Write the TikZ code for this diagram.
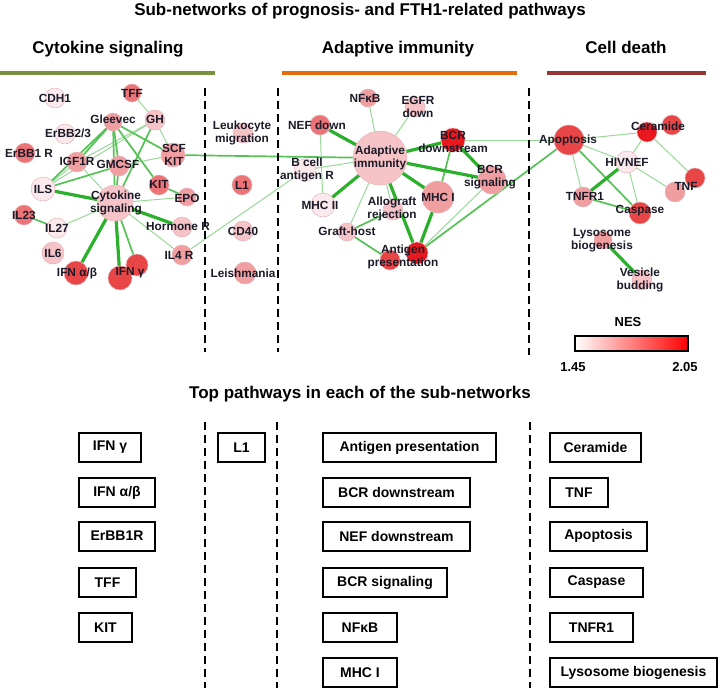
\documentclass[tikz,border=0pt]{standalone}
\usepackage{fontspec}
\setmainfont{Liberation Sans}
\usetikzlibrary{backgrounds}
\definecolor{labc}{HTML}{1A1A28}
\definecolor{cA}{HTML}{FBE9EB}
\definecolor{cB}{HTML}{F6C4C6}
\definecolor{cC}{HTML}{F19EA0}
\definecolor{cD}{HTML}{EC7476}
\definecolor{cE}{HTML}{E84646}
\definecolor{cF}{HTML}{E8181E}
\definecolor{ndb}{HTML}{E6B4BA}
\definecolor{eA}{HTML}{98D898}
\definecolor{eB}{HTML}{55C255}
\definecolor{eC}{HTML}{2AB02A}
\definecolor{gline}{HTML}{76923C}
\definecolor{oline}{HTML}{E46C0A}
\definecolor{rline}{HTML}{953735}
\newcommand\lblfont{\fontsize{11.8}{13}\selectfont\bfseries}
\newcommand\boxfont{\fontsize{14}{16}\selectfont\bfseries}
\newcommand\headfont{\fontsize{17}{19}\selectfont\bfseries}
\newcommand\titlefont{\fontsize{17}{19}\selectfont\bfseries}
\newcommand\legfont{\fontsize{13}{15}\selectfont\bfseries}
\tikzset{
  nd/.style={circle, inner sep=0pt, minimum size=#1pt, draw=ndb, line width=0.5pt},
  lab/.style={font=\lblfont, text=labc, align=center, inner sep=0pt},
  ea/.style={draw=eA, line width=1pt},
  eb/.style={draw=eB, line width=1.7pt},
  ec/.style={draw=eC, line width=3.2pt},
  pbox/.style={draw=black, line width=2pt, minimum height=29pt, inner sep=0pt, font=\boxfont, text=black, anchor=west},
  dashln/.style={draw=black, line width=2pt, dash pattern=on 8pt off 5pt},
  headtxt/.style={font=\headfont, text=black, anchor=base, inner sep=0pt},
}
\begin{document}
\begin{tikzpicture}[x=1pt,y=-1pt]
\useasboundingbox (0,0) rectangle (720,688);

% titles
\node[font=\titlefont, text=black, anchor=base, inner sep=0pt] (title) at (360,16) {Sub-networks of prognosis- and FTH1-related pathways};
\node[headtxt] (h1) at (108,53) {Cytokine signaling};
\node[headtxt] (h2) at (398,53) {Adaptive immunity};
\node[headtxt] (h3) at (626,53) {Cell death};
\draw[gline, line width=4pt] (0,73) -- (215,73);
\draw[oline, line width=4pt] (282,73) -- (517,73);
\draw[rline, line width=4pt] (547,73) -- (706,73);

% dashed separators
\draw[dashln] (205,88) -- (205,352);
\draw[dashln] (278,88) -- (278,352);
\draw[dashln] (529,88) -- (529,355);
\draw[dashln] (205,422) -- (205,688);
\draw[dashln] (277,422) -- (277,688);
\draw[dashln] (530,422) -- (530,688);

% ---- cytokine network nodes
\node[nd=20, fill=cA] (cdh1) at (55,98) {};
\node[nd=18, fill=cD] (tff) at (132,93) {};
\node[nd=20, fill=cB] (gh) at (155,120) {};
\node[nd=18, fill=cC] (gleevec) at (113,122) {};
\node[nd=20, fill=cA] (erbb23) at (65,134) {};
\node[nd=20, fill=cD] (erbb1r) at (25,153) {};
\node[nd=20, fill=cC] (igf1r) at (77,162) {};
\node[nd=20, fill=cC] (gmcsf) at (119,166) {};
\node[nd=24, fill=cC] (scfkit) at (173,155) {};
\node[nd=20, fill=cD] (kit) at (159,185) {};
\node[nd=24, fill=cA] (ils) at (43,189) {};
\node[nd=36, fill=cB] (cyto) at (115,203) {};
\node[nd=18, fill=cC] (epo) at (187,197) {};
\node[nd=20, fill=cD] (il23) at (24,215) {};
\node[nd=20, fill=cA] (il27) at (57,228) {};
\node[nd=20, fill=cB] (hormr) at (182,227) {};
\node[nd=22, fill=cB] (il6) at (53,253) {};
\node[nd=20, fill=cC] (il4r) at (182,255) {};
\node[nd=24, fill=cE] (ifnab) at (76,273) {};
\node[nd=22, fill=cE] (ifng2) at (137,265) {};
\node[nd=24, fill=cE] (ifng) at (120,278) {};

% ---- middle-left column
\node[nd=20, fill=cB] (leuk) at (243,133) {};
\node[nd=20, fill=cD] (l1) at (242,185) {};
\node[nd=20, fill=cB] (cd40) at (243,231) {};
\node[nd=22, fill=cC] (leish) at (245,273) {};

% ---- adaptive immunity network
\node[nd=18, fill=cC] (nfkb) at (368,98) {};
\node[nd=20, fill=cB] (egfr) at (415,107) {};
\node[nd=20, fill=cD] (nef) at (320,125) {};
\node[nd=54, fill=cB] (adapt) at (380,158) {};
\node[nd=22, fill=cA] (bcell) at (305,170) {};
\node[nd=24, fill=cA] (mhc2) at (323,205) {};
\node[nd=20, fill=cB] (allo) at (393,210) {};
\node[nd=18, fill=cB] (graft) at (347,232) {};
\node[nd=20, fill=cE] (ag1) at (390,260) {};
\node[nd=22, fill=cF] (ag2) at (417,253) {};
\node[nd=32, fill=cC] (mhc1) at (438,197) {};
\node[nd=24, fill=cF] (bcrd) at (453,140) {};
\node[nd=28, fill=cC] (bcrs) at (492,180) {};

% ---- cell death network
\node[nd=30, fill=cE] (apop) at (569,140) {};
\node[nd=20, fill=cF] (cer1) at (647,132) {};
\node[nd=20, fill=cE] (cer2) at (672,125) {};
\node[nd=22, fill=cA] (hiv) at (627,162) {};
\node[nd=20, fill=cE] (tnf1) at (695,178) {};
\node[nd=20, fill=cC] (tnf2) at (675,192) {};
\node[nd=20, fill=cC] (tnfr1) at (583,197) {};
\node[nd=22, fill=cE] (casp) at (640,213) {};
\node[nd=18, fill=cC] (lyso) at (603,240) {};
\node[nd=20, fill=cB] (ves) at (642,280) {};

% ---- edges (behind nodes)
\begin{pgfonlayer}{background}
% cytokine
\draw[ea] (tff) -- (gh);
\draw[ea] (gh) -- (igf1r);
\draw[ea] (gh) -- (ils);
\draw[ea] (gh) -- (scfkit);
\draw[ea] (igf1r) -- (ils);
\draw[ea] (igf1r) -- (cyto);
\draw[ea] (cyto) -- (epo);
\draw[ea] (cyto) -- (il4r);
\draw[ea] (cyto) -- (il27);
\draw[ea] (gmcsf) -- (scfkit);
\draw[ea] (il4r) -- (bcell);
\draw[eb] (gh) -- (cyto);
\draw[eb] (gleevec) -- (igf1r);
\draw[eb] (gleevec) -- (ils);
\draw[eb] (gleevec) -- (scfkit);
\draw[eb] (gleevec) -- (kit);
\draw[eb] (gleevec) -- (cyto);
\draw[eb] (gleevec) -- (gmcsf);
\draw[eb] (gmcsf) -- (cyto);
\draw[eb] (ils) -- (gmcsf);
\draw[eb] (kit) -- (epo);
\draw[eb] (il23) -- (il27);
\draw[eb] (cyto) -- (ifng2);
\draw[eb] (scfkit) -- (adapt);
\draw[ec] (ils) -- (cyto);
\draw[ec] (cyto) -- (hormr);
\draw[ec] (cyto) -- (ifnab);
\draw[ec] (cyto) -- (ifng);
% adaptive
\draw[ea] (nfkb) -- (adapt);
\draw[ea] (egfr) -- (adapt);
\draw[ea] (nef) -- (mhc2);
\draw[ea] (bcell) -- (adapt);
\draw[ea] (graft) -- (adapt);
\draw[ea] (allo) -- (adapt);
\draw[ea] (bcrd) -- (apop);
\draw[ea] (ag2) -- (bcrs);
\draw[eb] (graft) -- (ag1);
\draw[eb] (graft) -- (allo);
\draw[eb] (bcrd) -- (mhc1);
\draw[eb] (ag2) -- (apop);
\draw[ec] (nef) -- (adapt);
\draw[ec] (mhc2) -- (adapt);
\draw[ec] (adapt) -- (bcrd);
\draw[ec] (adapt) -- (bcrs);
\draw[ec] (adapt) -- (mhc1);
\draw[ec] (adapt) -- (ag2);
\draw[ec] (mhc1) -- (ag2);
\draw[ec] (bcrd) -- (bcrs);
% cell death
\draw[ea] (apop) -- (cer1);
\draw[ea] (apop) -- (hiv);
\draw[ea] (apop) -- (tnfr1);
\draw[ea] (cer1) -- (hiv);
\draw[ea] (cer1) -- (tnf1);
\draw[ea] (hiv) -- (tnf2);
\draw[ea] (hiv) -- (casp);
\draw[eb] (apop) -- (casp);
\draw[eb] (tnfr1) -- (casp);
\draw[ec] (hiv) -- (tnfr1);
\draw[ec] (lyso) -- (ves);
\end{pgfonlayer}

% ---- labels
\node[lab] (lcdh1) at (55,98) {CDH1};
\node[lab] (ltff) at (132,93) {TFF};
\node[lab] (lgh) at (155,119) {GH};
\node[lab] (lgleevec) at (113,119) {Gleevec};
\node[lab] (lerbb23) at (68,133) {ErBB2/3};
\node[lab] (lerbb1r) at (29,153) {ErBB1 R};
\node[lab] (ligf1r) at (77,161) {IGF1R};
\node[lab] (lgmcsf) at (118,164) {GMCSF};
\node[lab] (lscfkit) at (174,155) {SCF\\KIT};
\node[lab] (lkit) at (159,184) {KIT};
\node[lab] (lils) at (43,189) {ILS};
\node[lab] (lcyto) at (116,203) {Cytokine\\signaling};
\node[lab] (lepo) at (187,198) {EPO};
\node[lab] (lil23) at (24,215) {IL23};
\node[lab] (lil27) at (57,228) {IL27};
\node[lab] (lhormr) at (178,226) {Hormone R};
\node[lab] (lil6) at (53,253) {IL6};
\node[lab] (lil4r) at (179,255) {IL4 R};
\node[lab] (lifnab) at (77,273) {IFN α/β};
\node[lab] (lifng) at (130,273) {IFN γ};
\node[lab] (lleuk) at (242,133) {Leukocyte\\migration};
\node[lab] (ll1) at (242,185) {L1};
\node[lab] (lcd40) at (243,231) {CD40};
\node[lab] (lleish) at (243,273) {Leishmania};
\node[lab] (lnfkb) at (365,98) {NFκB};
\node[lab] (legfr) at (418,107) {EGFR\\down};
\node[lab] (lnef) at (317,125) {NEF down};
\node[lab] (ladapt) at (380,158) {Adaptive\\immunity};
\node[lab] (lbcell) at (307,170) {B cell\\antigen R};
\node[lab] (lmhc2) at (320,205) {MHC II};
\node[lab] (lallo) at (392,209) {Allograft\\rejection};
\node[lab] (lgraft) at (347,231) {Graft-host};
\node[lab] (lag) at (403,257) {Antigen\\presentation};
\node[lab] (lmhc1) at (438,197) {MHC I};
\node[lab] (lbcrd) at (453,142) {BCR\\downstream};
\node[lab] (lbcrs) at (490,177) {BCR\\signaling};
\node[lab] (lapop) at (568,140) {Apoptosis};
\node[lab] (lcer) at (658,126) {Ceramide};
\node[lab] (lhiv) at (627,162) {HIVNEF};
\node[lab] (ltnf) at (686,186) {TNF};
\node[lab] (ltnfr1) at (585,196) {TNFR1};
\node[lab] (lcasp) at (640,211) {Caspase};
\node[lab] (llyso) at (602,240) {Lysosome\\biogenesis};
\node[lab] (lves) at (640,280) {Vesicle\\budding};

% ---- legend
\node[font=\legfont, text=black, inner sep=0pt] (nes) at (628,322) {NES};
\node[draw=black, line width=1.5pt, left color=white, right color=red, minimum width=113pt, minimum height=15pt, inner sep=0pt] (bar) at (631.5,343.5) {};
\node[font=\legfont, text=black, inner sep=0pt] (lo) at (573,367) {1.45};
\node[font=\legfont, text=black, inner sep=0pt] (hi) at (685,367) {2.05};

% ---- bottom part
\node[font=\headfont, text=black, anchor=base, inner sep=0pt] (title2) at (360,398) {Top pathways in each of the sub-networks};
\node[pbox, minimum width=62pt] (b1) at (78,447.5) {IFN γ};
\node[pbox, minimum width=76pt] (b2) at (78,492.5) {IFN α/β};
\node[pbox, minimum width=76pt] (b3) at (78,536) {ErBB1R};
\node[pbox, minimum width=57pt] (b4) at (78,582.5) {TFF};
\node[pbox, minimum width=53pt] (b5) at (78,627.5) {KIT};
\node[pbox, minimum width=47pt] (b6) at (217,447.5) {L1};
\node[pbox, minimum width=173pt] (b7) at (322,447.5) {Antigen presentation};
\node[pbox, minimum width=147pt] (b8) at (322,492.5) {BCR downstream};
\node[pbox, minimum width=147pt] (b9) at (322,536) {NEF downstream};
\node[pbox, minimum width=124pt] (b10) at (322,582.5) {BCR signaling};
\node[pbox, minimum width=74pt] (b11) at (322,627.5) {NFκB};
\node[pbox, minimum width=74pt] (b12) at (322,672.5) {MHC I};
\node[pbox, minimum width=91pt] (b13) at (549,447.5) {Ceramide};
\node[pbox, minimum width=58pt] (b14) at (549,492.5) {TNF};
\node[pbox, minimum width=97pt] (b15) at (549,536) {Apoptosis};
\node[pbox, minimum width=93pt] (b16) at (549,582.5) {Caspase};
\node[pbox, minimum width=83pt] (b17) at (549,627.5) {TNFR1};
\node[pbox, minimum width=167pt] (b18) at (549,672.5) {Lysosome biogenesis};
\end{tikzpicture}
\end{document}
